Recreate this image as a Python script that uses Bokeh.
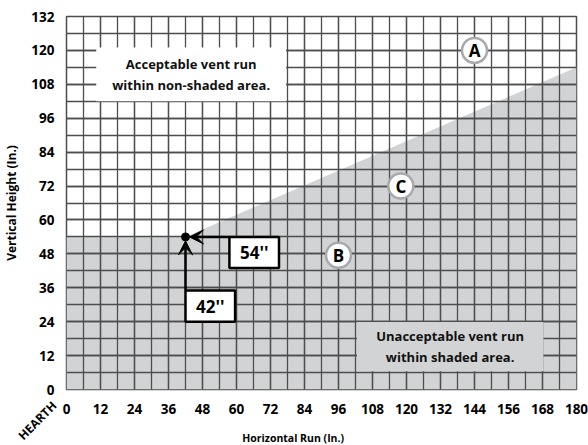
from bokeh.plotting import figure
from bokeh.models import Range1d, SingleIntervalTicker, Arrow, VeeHead, Label
from bokeh.core.properties import value
from bokeh.embed import file_html
from bokeh.resources import INLINE

FONT = "Open Sans"
GRID = "#4d4d4d"
SHADE = "#d1d3d4"

x_ticks = list(range(0, 181, 12))
y_ticks = list(range(0, 133, 12))

# shaded (unacceptable) region boundary
shade_x = [0, 42, 180, 180, 0]
shade_y = [54, 54, 114, 0, 0]

# example point
point_x = [42]
point_y = [54]

# callout boxes
box_labels = ["54''", "42''"]
box_left = [57.5, 42]
box_right = [75, 59.5]
box_bottom = [43, 24]
box_top = [54, 35]

# zone letters
zone_labels = ["A", "B", "C"]
zone_x = [144, 96, 118]
zone_y = [120, 47.5, 72]

# note boxes
note_texts = ["Acceptable vent run\nwithin non-shaded area.",
              "Unacceptable vent run\nwithin shaded area."]
note_left = [10.5, 102.5]
note_right = [77.5, 168.3]
note_bottom = [102, 6.5]
note_top = [121, 23.9]
note_fill = ["white", SHADE]

# outside texts (data-positioned)
xlabel_text = "Horizontal Run (In.)"
xlabel_pos = (80, -17.2)
hearth_text = "HEARTH"
hearth_pos = (-4.3, -4.9)

p = figure(frame_width=510, frame_height=373,
           x_range=Range1d(0, 180), y_range=Range1d(0, 132),
           output_backend="svg", toolbar_location=None,
           min_border_left=65, min_border_right=12, min_border_top=16, min_border_bottom=55,
           background_fill_color="white", border_fill_color="white")

xt = SingleIntervalTicker(interval=12, num_minor_ticks=2)
yt = SingleIntervalTicker(interval=12, num_minor_ticks=2)
p.xaxis.ticker = xt
p.yaxis.ticker = yt
p.xgrid.ticker = xt
p.ygrid.ticker = yt
for g in (p.xgrid, p.ygrid):
    g.grid_line_color = GRID
    g.grid_line_width = 1.3
    g.minor_grid_line_color = GRID
    g.minor_grid_line_width = 1.3

for ax in (p.xaxis, p.yaxis):
    ax.axis_line_color = None
    ax.major_tick_line_color = None
    ax.minor_tick_line_color = None
    ax.major_label_text_font = FONT
    ax.major_label_text_font_style = "bold"
    ax.major_label_text_font_size = "13.5px"
    ax.major_label_text_color = "black"
    ax.axis_label_text_font = FONT
    ax.axis_label_text_font_style = "bold"
    ax.axis_label_text_color = "black"

p.yaxis.axis_label = "Vertical Height (In.)"
p.yaxis.axis_label_text_font_size = "12px"
p.xaxis.major_label_standoff = 8
p.yaxis.major_label_standoff = 6
p.yaxis.axis_label_standoff = 8

p.outline_line_color = GRID
p.outline_line_width = 1.5

# shaded area under the grid
p.patch(shade_x, shade_y, fill_color=SHADE, line_color=None, level="image")

# note boxes
p.quad(left=note_left, right=note_right, bottom=note_bottom, top=note_top,
       fill_color=note_fill, line_color=None)
p.text(x=[(a + b) / 2 for a, b in zip(note_left, note_right)],
       y=[(a + b) / 2 for a, b in zip(note_bottom, note_top)],
       text=note_texts, text_font=value(FONT), text_font_style="bold",
       text_font_size="13px", text_align="center", text_baseline="middle",
       text_line_height=1.2, text_color="#111111")

# zone circles
p.scatter(zone_x, zone_y, size=25, fill_color="white", line_color="#a7a9ac", line_width=2.5)
p.text(zone_x, zone_y, text=zone_labels, text_font=value(FONT), text_font_style="bold",
       text_font_size="17px", text_align="center", text_baseline="middle", text_color="black")

# callout boxes
p.quad(left=box_left, right=box_right, bottom=box_bottom, top=box_top,
       fill_color="white", line_color="black", line_width=2.5)
p.text(x=[(a + b) / 2 for a, b in zip(box_left, box_right)],
       y=[(a + b) / 2 for a, b in zip(box_bottom, box_top)],
       text=box_labels, text_font=value(FONT), text_font_style="bold",
       text_font_size="17px", text_align="center", text_baseline="middle", text_color="black")

# arrows to the point
p.add_layout(Arrow(end=VeeHead(size=14, fill_color="black", line_color="black"),
                   x_start=box_left[1], y_start=box_top[1],
                   x_end=point_x[0], y_end=point_y[0] - 1.4,
                   line_color="black", line_width=2.5))
p.add_layout(Arrow(end=VeeHead(size=14, fill_color="black", line_color="black"),
                   x_start=box_left[0], y_start=box_top[0],
                   x_end=point_x[0] + 1.4, y_end=point_y[0],
                   line_color="black", line_width=2.5))
p.scatter(point_x, point_y, size=8, fill_color="black", line_color="black")

# texts outside the frame (placed in a side panel so they are not clipped)
p.add_layout(Label(x=hearth_pos[0], y=hearth_pos[1], text=hearth_text, angle=45, angle_units="deg",
                   text_align="right", text_baseline="middle",
                   text_font=FONT, text_font_style="bold", text_font_size="12px",
                   text_color="black"), "below")
p.add_layout(Label(x=xlabel_pos[0], y=xlabel_pos[1], text=xlabel_text,
                   text_align="center", text_baseline="middle",
                   text_font=FONT, text_font_style="bold", text_font_size="10.5px",
                   text_color="black"), "below")

open("out.html", "w").write(file_html(p, INLINE))
